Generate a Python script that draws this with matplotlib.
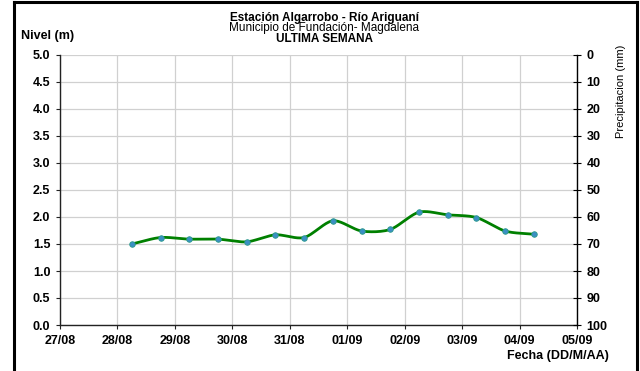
import numpy as np
import matplotlib
matplotlib.use("Agg")
import matplotlib.pyplot as plt
from matplotlib.lines import Line2D
import pandas as pd
import matplotlib.dates as mdates

plt.rcParams['font.family'] = ['Liberation Sans', 'DejaVu Sans']

# Data (12-hourly water level readings)
fechas = pd.date_range("2011-08-28 06:00", periods=15, freq="12h")
nivel = [1.50, 1.62, 1.59, 1.59, 1.54, 1.67, 1.62, 1.93, 1.74, 1.77,
         2.09, 2.04, 1.99, 1.74, 1.68]
xtick_labels = ["27/08", "28/08", "29/08", "30/08", "31/08", "01/09",
                "02/09", "03/09", "04/09", "05/09"]
xtick_dates = pd.date_range("2011-08-27", periods=10, freq="D")
y_ticks = [0.0, 0.5, 1.0, 1.5, 2.0, 2.5, 3.0, 3.5, 4.0, 4.5, 5.0]
precip_ticks = [0, 10, 20, 30, 40, 50, 60, 70, 80, 90, 100]


def smooth(x, y, n=20):
    # Catmull-Rom style smoothing (like Excel smoothed line)
    x = np.asarray(x, float); y = np.asarray(y, float)
    px = np.concatenate([[2 * x[0] - x[1]], x, [2 * x[-1] - x[-2]]])
    py = np.concatenate([[2 * y[0] - y[1]], y, [2 * y[-1] - y[-2]]])
    xs, ys = [], []
    for i in range(1, len(px) - 2):
        t = np.linspace(0, 1, n, endpoint=False)
        for arr, out in ((px, xs), (py, ys)):
            p0, p1, p2, p3 = arr[i - 1], arr[i], arr[i + 1], arr[i + 2]
            m1 = (p2 - p0) / 2 * 0.85
            m2 = (p3 - p1) / 2 * 0.85
            h00 = 2 * t**3 - 3 * t**2 + 1
            h10 = t**3 - 2 * t**2 + t
            h01 = -2 * t**3 + 3 * t**2
            h11 = t**3 - t**2
            out.extend(h00 * p1 + h10 * m1 + h01 * p2 + h11 * m2)
    xs.append(x[-1]); ys.append(y[-1])
    return np.array(xs), np.array(ys)


W, H = 640, 371
fig = plt.figure(figsize=(W / 100, H / 100), dpi=100)
ax = fig.add_axes([60 / W, 1 - 325 / H, 517 / W, 270 / H])

xnum = mdates.date2num(fechas)
sx, sy = smooth(xnum, nivel)
ax.plot(sx, sy, color="#008000", lw=2.0, zorder=3)
ax.plot(xnum, nivel, ls="none", marker="o", ms=4, mfc="#3b8fc4",
        mec="#2a9a8a", mew=0.6, zorder=4)

ax.set_xlim(mdates.date2num(xtick_dates[0]), mdates.date2num(xtick_dates[-1]))
ax.set_ylim(0, 5)
ax.set_xticks(mdates.date2num(xtick_dates))
ax.set_xticklabels(xtick_labels, fontsize=9, fontweight="bold")
ax.set_yticks(y_ticks)
ax.set_yticklabels([f"{v:.1f}" for v in y_ticks], fontsize=9, fontweight="bold")
ax.grid(True, color="#d0d0d0", lw=0.9)
ax.set_axisbelow(True)
ax.spines["top"].set_visible(False)
ax.spines["right"].set_visible(False)
for s in ("left", "bottom"):
    ax.spines[s].set_color("#222222")
    ax.spines[s].set_linewidth(1.0)
ax.tick_params(axis="both", length=3, width=0.8, color="#222222")
ax.tick_params(axis="x", pad=4)
ax.tick_params(axis="y", pad=4)

ax2 = ax.twinx()
ax2.set_ylim(100, 0)
ax2.set_yticks(precip_ticks)
ax2.set_yticklabels([str(v) for v in precip_ticks], fontsize=9, fontweight="bold")
ax2.tick_params(axis="y", direction="inout", length=6, width=0.8, pad=4)
for s in ("top", "left", "bottom"):
    ax2.spines[s].set_visible(False)
ax2.spines["right"].set_linewidth(1.0)

fig.text(621 / W, 1 - 91 / H, "Precipitacion (mm)", rotation=90, ha="center",
         va="center", fontsize=8)

cx = 324 / W
fig.text(cx, 1 - 20.5 / H, "Estación Algarrobo - Río Ariguaní", ha="center",
         va="baseline", fontsize=8.5, fontweight="bold")
fig.text(cx, 1 - 31 / H, "Municipio de Fundación- Magdalena", ha="center",
         va="baseline", fontsize=8.5)
fig.text(cx, 1 - 41.5 / H, "ULTIMA SEMANA", ha="center",
         va="baseline", fontsize=8.5, fontweight="bold")
fig.text(21 / W, 1 - 39 / H, "Nivel (m)", ha="left", va="baseline",
         fontsize=9, fontweight="bold")
fig.text(609 / W, 1 - 359 / H, "Fecha (DD/M/AA)", ha="right", va="baseline",
         fontsize=9, fontweight="bold")

# chart-area border (left, top, right)
for xs_, ys_ in (([13.5, 13.5], [2, H]), ([13.5, 636.5], [2, 2]),
                 ([636.5, 636.5], [2, H])):
    fig.add_artist(Line2D([v / W for v in xs_], [1 - v / H for v in ys_],
                          transform=fig.transFigure, color="black", lw=2.2))

fig.savefig("out.png", dpi=100)
